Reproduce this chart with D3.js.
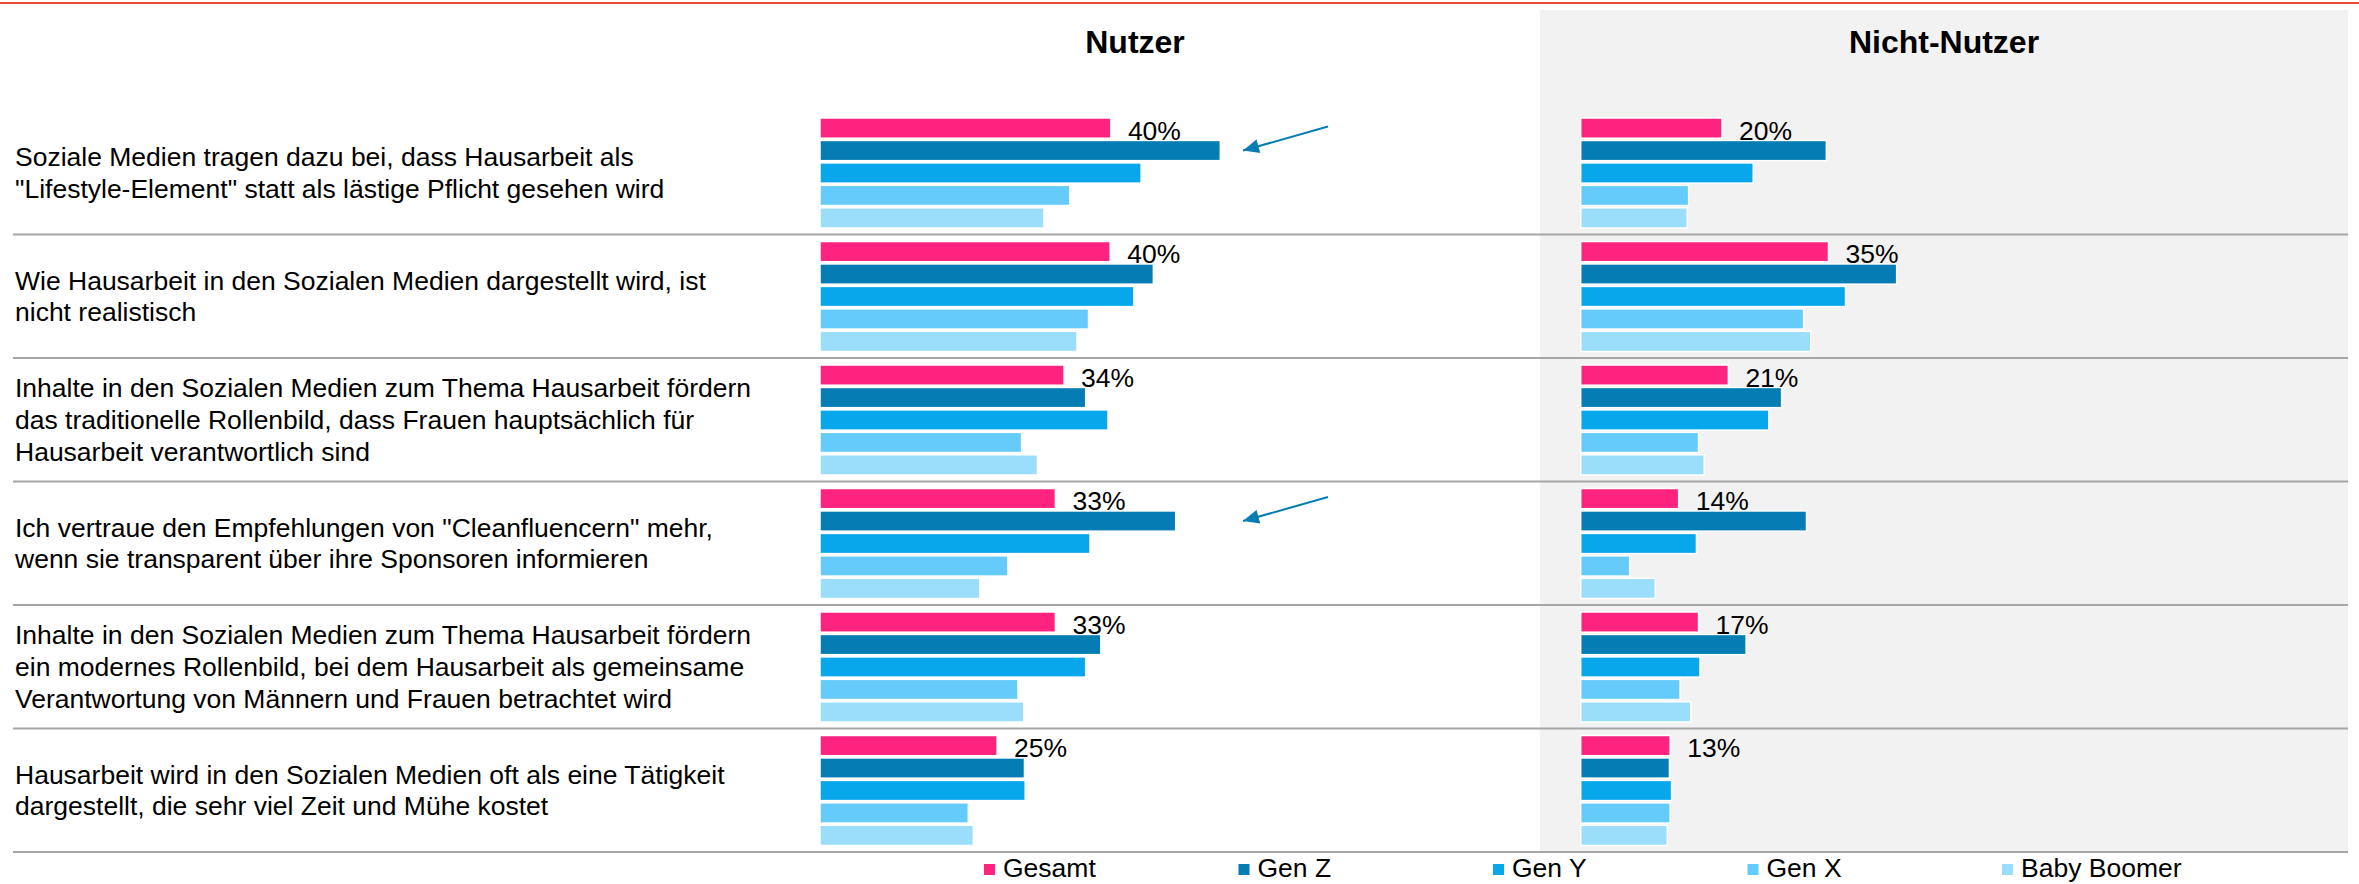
<!DOCTYPE html>
<html>
<head>
<meta charset="utf-8">
<script src="https://cdn.jsdelivr.net/npm/d3@7"></script>
<style>
  html, body { margin: 0; padding: 0; background: #fff; }
  svg { display: block; font-family: "Liberation Sans", Arial, sans-serif; }
</style>
</head>
<body>
<svg id="chart"></svg>
<script>
var width = 2359,
    height = 884;

var statements = [
  ["Soziale Medien tragen dazu bei, dass Hausarbeit als", "\"Lifestyle-Element\" statt als lästige Pflicht gesehen wird"],
  ["Wie Hausarbeit in den Sozialen Medien dargestellt wird, ist", "nicht realistisch"],
  ["Inhalte in den Sozialen Medien zum Thema Hausarbeit fördern", "das traditionelle Rollenbild, dass Frauen hauptsächlich für", "Hausarbeit verantwortlich sind"],
  ["Ich vertraue den Empfehlungen von \"Cleanfluencern\" mehr,", "wenn sie transparent über ihre Sponsoren informieren"],
  ["Inhalte in den Sozialen Medien zum Thema Hausarbeit fördern", "ein modernes Rollenbild, bei dem Hausarbeit als gemeinsame", "Verantwortung von Männern und Frauen betrachtet wird"],
  ["Hausarbeit wird in den Sozialen Medien oft als eine Tätigkeit", "dargestellt, die sehr viel Zeit und Mühe kostet"]
];

var series = ["Gesamt", "Gen Z", "Gen Y", "Gen X", "Baby Boomer"];
var colors = ["#ff2380", "#057db4", "#08a6ea", "#64cbfa", "#9bdefc"];

var panelTitles = ["Nutzer", "Nicht-Nutzer"];

// percent, one row per statement, order = series
var nutzer = [
  [40.4, 55.6, 44.6, 34.7, 31.1],
  [40.3, 46.3, 43.6, 37.3, 35.7],
  [33.9, 36.9, 40.0, 28.0, 30.2],
  [32.7, 49.4, 37.5, 26.1, 22.2],
  [32.7, 39.0, 36.9, 27.5, 28.3],
  [24.6, 28.4, 28.5, 20.6, 21.3]
];

var nichtNutzer = [
  [19.9, 34.6, 24.3, 15.2, 15.0],
  [34.9, 44.5, 37.3, 31.4, 32.4],
  [20.8, 28.3, 26.5, 16.6, 17.4],
  [13.8, 31.8, 16.3, 6.9, 10.5],
  [16.6, 23.3, 16.8, 14.0, 15.5],
  [12.6, 12.5, 12.8, 12.6, 12.2]
];

// rows with an arrow pointing at Gen Z
var highlighted = [0, 3];

var svg = d3.select("#chart")
  .attr("width", width)
  .attr("height", height);

var color = d3.scaleOrdinal().domain(series).range(colors);

var rowY = d3.scaleBand()
  .domain(d3.range(statements.length))
  .range([111, 852]);

var barY = d3.scaleBand()
  .domain(series)
  .range([7, 117])
  .paddingInner(0.1);

var panels = [
  { title: panelTitles[0], data: nutzer, x: d3.scaleLinear().domain([0, 100]).range([820, 1540]), center: 1135 },
  { title: panelTitles[1], data: nichtNutzer, x: d3.scaleLinear().domain([0, 100]).range([1580.7, 2290.7]), center: 1944 }
];

// grey background of the second panel
svg.append("rect")
  .attr("x", 1540)
  .attr("y", 10)
  .attr("width", 808)
  .attr("height", 842)
  .style("fill", "#f2f2f2");

// red rule on top
svg.append("line")
  .attr("x1", 0).attr("x2", width)
  .attr("y1", 3).attr("y2", 3)
  .style("stroke", "#f04a3a")
  .style("stroke-width", 2);

svg.selectAll(".title")
  .data(panels)
  .enter().append("text")
  .attr("class", "title")
  .attr("x", d => d.center)
  .attr("y", 53)
  .attr("text-anchor", "middle")
  .style("font-size", "32px")
  .style("font-weight", "bold")
  .text(d => d.title);

// statement labels
var lineHeight = 31.8;
svg.selectAll(".stmt")
  .data(statements)
  .enter().append("text")
  .attr("class", "stmt")
  .style("font-size", "26.5px")
  .style("fill", "#000")
  .each(function(lines, i) {
    var cy = rowY(i) + rowY.bandwidth() / 2;
    var first = cy - (lines.length - 1) * lineHeight / 2;
    d3.select(this).selectAll("tspan")
      .data(lines)
      .enter().append("tspan")
      .attr("x", 15)
      .attr("y", (d, j) => first + j * lineHeight)
      .attr("dy", "0.35em")
      .text(d => d);
  });

// separators
svg.selectAll(".sep")
  .data(statements)
  .enter().append("line")
  .attr("class", "sep")
  .attr("x1", 13).attr("x2", 2348)
  .attr("y1", (d, i) => rowY(i) + rowY.bandwidth())
  .attr("y2", (d, i) => rowY(i) + rowY.bandwidth())
  .style("stroke", "#a6a6a6")
  .style("stroke-width", 2);

panels.forEach(function(p) {
  var rows = svg.append("g").selectAll("g")
    .data(p.data)
    .enter().append("g")
    .attr("transform", (d, i) => `translate(0,${rowY(i)})`);

  rows.selectAll("rect")
    .data(d => d.map((v, k) => ({ key: series[k], value: v })))
    .enter().append("rect")
    .attr("x", p.x(0))
    .attr("y", d => barY(d.key))
    .attr("width", d => p.x(d.value) - p.x(0))
    .attr("height", barY.bandwidth())
    .style("fill", d => color(d.key))
    .style("stroke", "#fff")
    .style("stroke-width", 1.5);

  rows.append("text")
    .attr("x", d => p.x(d[0]) + 17)
    .attr("y", barY("Gesamt") + barY.bandwidth() + 1.5)
    .style("font-size", "26.5px")
    .style("fill", "#000")
    .text(d => d3.format(".0f")(d[0]) + "%");
});

// arrows
svg.append("defs").append("marker")
  .attr("id", "head")
  .attr("markerUnits", "userSpaceOnUse")
  .attr("viewBox", "0 0 16 14")
  .attr("refX", 16)
  .attr("refY", 7)
  .attr("markerWidth", 17)
  .attr("markerHeight", 14)
  .attr("orient", "auto")
  .append("path")
  .attr("d", "M0,0 L16,7 L0,14 Z")
  .style("fill", colors[1]);

svg.selectAll(".arrow")
  .data(highlighted)
  .enter().append("line")
  .attr("class", "arrow")
  .attr("x1", 1328)
  .attr("y1", i => rowY(i) + barY("Gen Z") + barY.bandwidth() / 2 - 24)
  .attr("x2", 1243)
  .attr("y2", i => rowY(i) + barY("Gen Z") + barY.bandwidth() / 2)
  .style("stroke", colors[1])
  .style("stroke-width", 2)
  .attr("marker-end", "url(#head)");

// legend
var legendX = d3.scalePoint().domain(series).range([984, 2002]);
var legend = svg.selectAll(".legend")
  .data(series)
  .enter().append("g")
  .attr("class", "legend")
  .attr("transform", d => `translate(${legendX(d)},864)`);

legend.append("rect")
  .attr("width", 11)
  .attr("height", 11)
  .style("fill", d => color(d));

legend.append("text")
  .attr("x", 19)
  .attr("y", 13)
  .style("font-size", "26.5px")
  .text(d => d);
</script>
</body>
</html>
